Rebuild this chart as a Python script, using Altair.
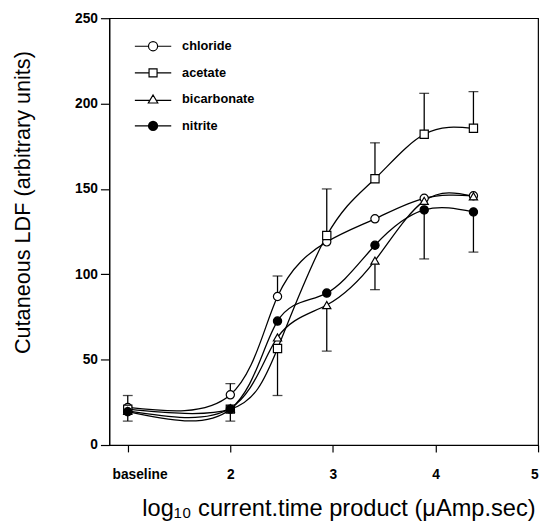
import altair as alt
import pandas as pd

# ---- data ----
series_names = ["chloride", "acetate", "bicarbonate", "nitrite"]
x_vals = [1.0, 2.0, 2.46, 2.94, 3.41, 3.89, 4.37]
chloride = [22, 29.4, 87, 119, 132.5, 144.5, 146]
acetate = [21, 21, 56.5, 122.7, 156, 182, 185.5]
bicarbonate = [20, 21.5, 63, 82, 108, 143, 145.7]
nitrite = [19.5, 21, 72.6, 89, 117, 137.7, 136.5]

# error bars: (series, x, lower end, upper end)
err_series = ["chloride", "chloride", "chloride", "acetate", "acetate", "acetate",
              "acetate", "acetate", "bicarbonate", "bicarbonate", "nitrite",
              "nitrite", "nitrite", "nitrite"]
err_x = [1.0, 2.0, 2.46, 2.46, 2.94, 3.41, 3.89, 4.37, 2.94, 3.41, 1.0, 2.0, 3.89, 4.37]
err_lo = [22, 29.4, 87, 29, 122.7, 156, 182, 185.5, 55, 91, 14, 14, 109, 113]
err_hi = [29, 36, 99, 56.5, 150, 177, 206, 207, 82, 108, 19.5, 21, 137.7, 136.5]

x_ticks = [1, 2, 3, 4, 5]
y_ticks = [0, 50, 100, 150, 200, 250]

series_vals = {"chloride": chloride, "acetate": acetate,
               "bicarbonate": bicarbonate, "nitrite": nitrite}
rows = []
for name in series_names:
    for xv, yv in zip(x_vals, series_vals[name]):
        rows.append({"series": name, "x": xv, "y": yv})
df = pd.DataFrame(rows)
err = pd.DataFrame({"series": err_series, "x": err_x, "lo": err_lo, "hi": err_hi})

# cap is drawn at the far end of each (one-sided) error bar
cap_vals = []
for s, xv, l, h in zip(err_series, err_x, err_lo, err_hi):
    mean = dict(zip(x_vals, series_vals[s]))[xv]
    cap_vals.append(h if abs(h - mean) > abs(l - mean) else l)
caps = pd.DataFrame({"x": err_x, "cap": cap_vals})

FONT = "Liberation Sans"
x_scale = alt.Scale(domain=[0.82, 5], nice=False, zero=False)
y_scale = alt.Scale(domain=[0, 250], nice=False)

x_axis = alt.Axis(
    values=x_ticks, format="d", title="log\u2081\u2080 current.time product (\u03bcAmp.sec)",
    labelExpr="datum.value == 1 ? 'baseline' : datum.label",
    labelOffset={"condition": {"test": "datum.value == 1", "value": 12}, "value": 0},
    tickSize=7, labelPadding=16, grid=False, labelFontWeight="bold",
    labelFontSize=14, titleFontSize=24, titleFontWeight="normal",
    titleX=233, titleY=65, titleBaseline="middle",
)
y_axis = alt.Axis(
    values=y_ticks, title="Cutaneous LDF (arbitrary units)",
    tickSize=9, labelPadding=3, grid=False, labelFontWeight="bold",
    labelFontSize=14, titleFontSize=22, titleFontWeight="normal",
    titleX=-88, titleY=187, titleBaseline="middle",
)

X = alt.X("x:Q", scale=x_scale, axis=x_axis)
Y = alt.Y("y:Q", scale=y_scale, axis=y_axis)

base = alt.Chart(df)

lines = base.mark_line(color="black", strokeWidth=1.3, interpolate="natural").encode(
    x=X, y=Y, detail="series:N"
)

rules = alt.Chart(err).mark_rule(color="black", strokeWidth=1.3).encode(
    x=alt.X("x:Q", scale=x_scale), y=alt.Y("lo:Q", scale=y_scale), y2="hi:Q"
)
cap_marks = alt.Chart(caps).mark_tick(color="black", thickness=1.3, size=10, orient="horizontal").encode(
    x=alt.X("x:Q", scale=x_scale), y=alt.Y("cap:Q", scale=y_scale)
)

shape_range = ["circle", "square", "triangle-up", "circle"]
fill_range = ["white", "white", "white", "black"]

points = base.mark_point(filled=True, stroke="black", strokeWidth=1.2, size=70, opacity=1).encode(
    x=X, y=Y,
    shape=alt.Shape("series:N", scale=alt.Scale(domain=series_names, range=shape_range), legend=None),
    fill=alt.Fill("series:N", scale=alt.Scale(domain=series_names, range=fill_range), legend=None),
)


# legend symbols: a line through a marker, as custom symbol paths
def ring(r):
    return f"M{-r},0A{r},{r},0,1,1,{r},0A{r},{r},0,1,1,{-r},0Z"


leg_paths = [
    "M-1,0L-0.25,0M0.25,0L1,0" + ring(0.25),
    "M-1,0L-0.22,0M0.22,0L1,0M-0.22,-0.22L0.22,-0.22L0.22,0.22L-0.22,0.22Z",
    "M-1,0.06L-0.17,0.06M0.17,0.06L1,0.06M0,-0.24L0.26,0.2L-0.26,0.2Z",
    "M-1,0L-0.25,0M0.25,0L1,0" + "".join(ring(r) for r in [0.25, 0.2, 0.15, 0.1, 0.05, 0.02]),
]
leg = alt.Legend(
    title=None, orient="none", legendX=25, legendY=9, padding=0,
    symbolSize=1369, symbolStrokeWidth=1.2, symbolStrokeColor="black",
    symbolFillColor="white", symbolOpacity=1,
    labelFont=FONT, labelFontSize=13, labelFontWeight="bold", labelColor="black",
    labelOffset=10, rowPadding=0,
)
legend_layer = base.mark_point(stroke="black", strokeWidth=1.2, opacity=1).encode(
    x=X, y=Y,
    shape=alt.Shape("series:N", scale=alt.Scale(domain=series_names, range=leg_paths), legend=leg),
).transform_filter("false")

chart = alt.layer(lines, rules, cap_marks, points, legend_layer).resolve_scale(
    shape="independent", fill="independent"
).properties(
    width=436, height=434,
    padding={"left": 103, "top": 6, "right": 4, "bottom": 80},
    autosize=alt.AutoSizeParams(type="none"),
    background="white",
).configure_view(
    stroke="black", strokeWidth=1.2
).configure_axis(
    labelFont=FONT, titleFont=FONT, labelColor="black", titleColor="black",
    domainColor="black", tickColor="black", domainWidth=1.2, tickWidth=1.2,
)

chart.save("out.html", embed_options={"renderer": "svg", "actions": False})
